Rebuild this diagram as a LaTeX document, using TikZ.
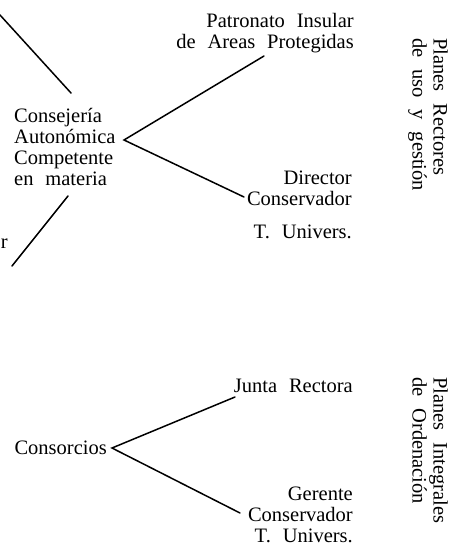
\documentclass[tikz,border=0pt]{standalone}
\usepackage{fontspec}
\setmainfont{Liberation Serif}
\DeclareRobustCommand\myfnt{\fontsize{20.5}{21}\selectfont\spaceskip=11.9pt\relax}
\begin{document}
\begin{tikzpicture}[x=1pt,y=-1pt,
  txt/.style={inner sep=0pt,font=\myfnt},
  conn/.style={line width=1.5pt,line cap=round}]
\useasboundingbox (0,0) rectangle (455,547);
% upper group (base anchor = baseline of last line)
\node[txt,align=left,anchor=base west] (consej) at (14,185) {Consejería\\Autonómica\\Competente\\en materia};
\node[txt,align=right,anchor=base east] (patron) at (354,48) {Patronato Insular\\de Areas Protegidas};
\node[txt,align=right,anchor=base east] (director) at (352,205) {Director\\Conservador};
\node[txt,anchor=base east] (tu1) at (352,238) {T. Univers.};
\node[txt,anchor=base east] (rr) at (8,248) {r};
\node[txt,align=left,anchor=north west,rotate=-90] (plan1) at (448,38) {Planes Rectores\\de uso y gestión};
% lower group
\node[txt,anchor=base east] (consor) at (107,454) {Consorcios};
\node[txt,anchor=base east] (junta) at (353,392) {Junta Rectora};
\node[txt,align=right,anchor=base east] (gerente) at (353,542) {Gerente\\Conservador\\T. Univers.};
\node[txt,align=left,anchor=north west,rotate=-90] (plan2) at (448,377) {Planes Integrales\\de Ordenación};
% connectors
\coordinate (a1) at (0,15); \coordinate (a2) at (71,93);
\coordinate (b1) at (68,196); \coordinate (b2) at (12,266);
\coordinate (apex1) at (124,140);
\coordinate (p1) at (264,56); \coordinate (d1) at (244,197);
\coordinate (apex2) at (112,448);
\coordinate (j1) at (235,397); \coordinate (g1) at (240,513);
\draw[conn] (a1) -- (a2);
\draw[conn] (b1) -- (b2);
\draw[conn] (p1) -- (apex1) -- (d1);
\draw[conn] (j1) -- (apex2) -- (g1);
\end{tikzpicture}
\end{document}
